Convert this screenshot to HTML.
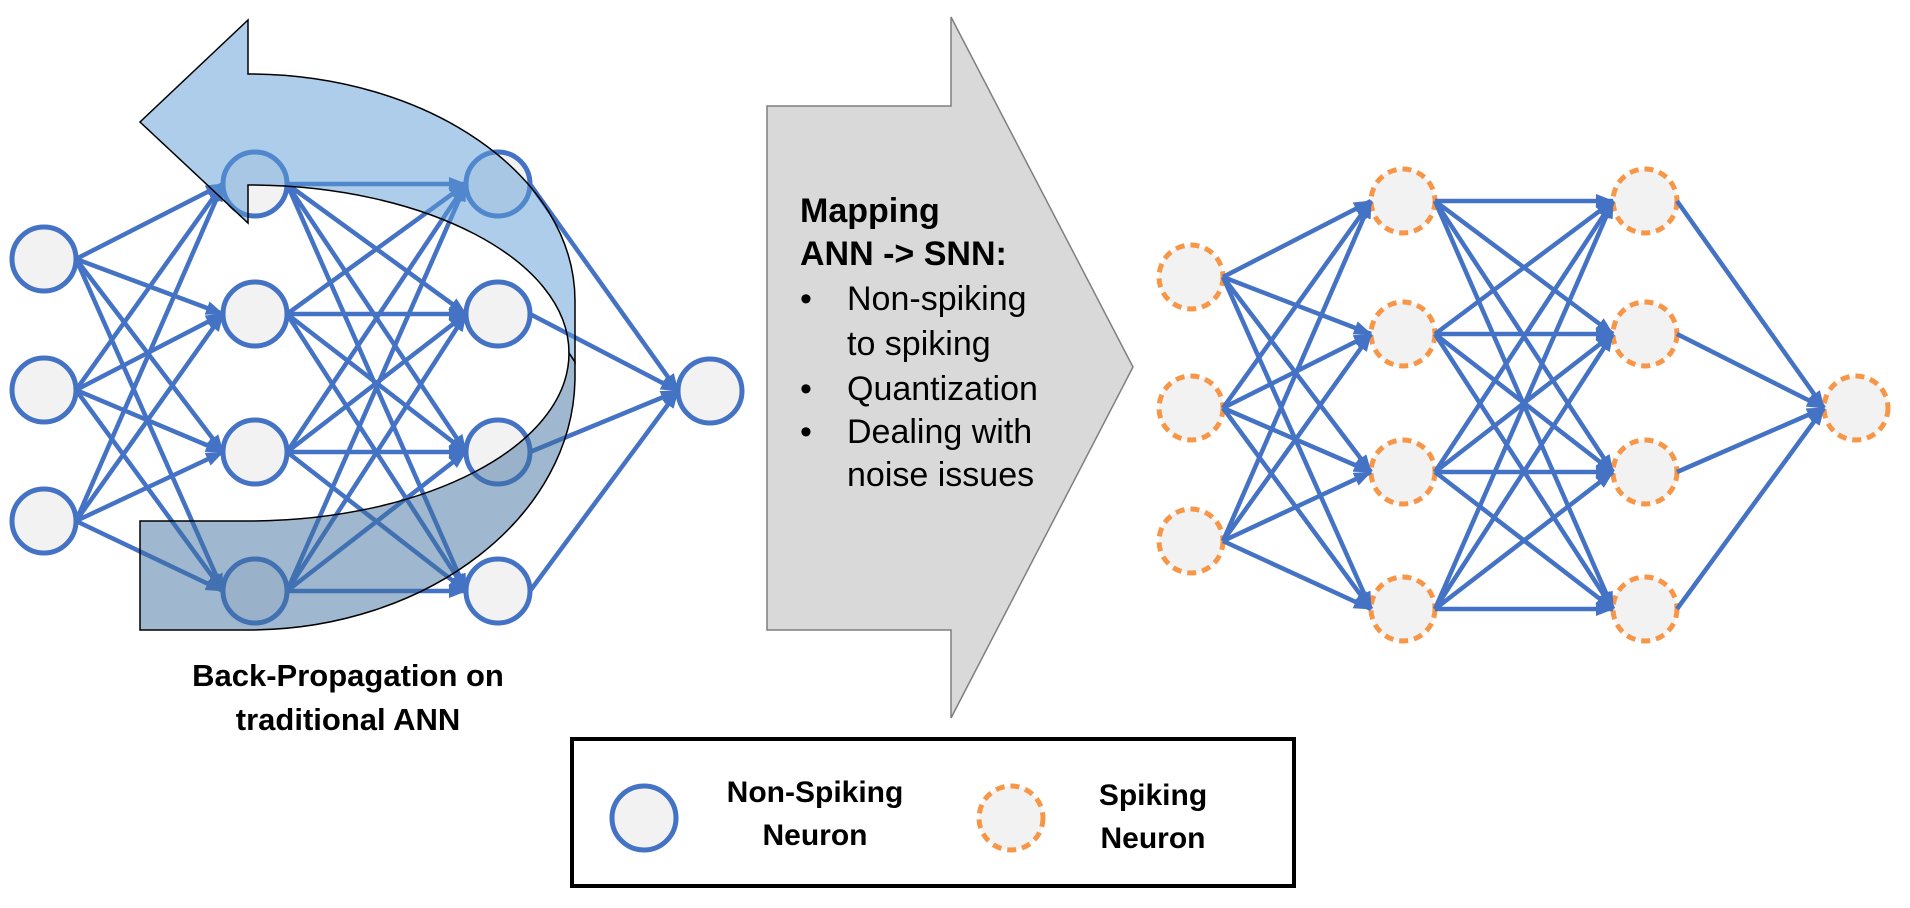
<!DOCTYPE html>
<html><head><meta charset="utf-8"><style>
html,body{margin:0;padding:0;background:#fff;}
svg{display:block;}
text{font-family:"Liberation Sans",sans-serif;fill:#000;}
</style></head><body>
<svg id="s" width="1910" height="908" viewBox="0 0 1910 908" xmlns="http://www.w3.org/2000/svg">
<defs>
<marker id="ah" markerUnits="userSpaceOnUse" markerWidth="18" markerHeight="14" refX="17" refY="7" orient="auto">
<path d="M0,0 L18,7 L0,14 z" fill="#4472c4"/>
</marker>
</defs>
<g id="leftnet"></g>
<path d="M248,74 C428,74 575,176 575,301 L575,362 L569,353 C569,260 425,185 248,185 L248,223 L140,122 L248,20 Z" fill="#5b9bd5" fill-opacity="0.5" stroke="#000" stroke-width="1.5" stroke-linejoin="miter"/>
<path d="M575,362 L575,376 C575,516 428,630 248,630 L140,630 L140,521 L248,521 C425,521 569,446 569,353 Z" fill="#3f6f9f" fill-opacity="0.5" stroke="#000" stroke-width="1.5"/>
<text x="348" y="686" font-size="31" font-weight="bold" text-anchor="middle">Back-Propagation on</text>
<text x="348" y="730" font-size="31" font-weight="bold" text-anchor="middle">traditional ANN</text>
<path d="M767,106 L951,106 L951,17 L1133,367 L951,718 L951,630 L767,630 Z" fill="#d9d9d9" stroke="#7f7f7f" stroke-width="1.5"/>
<g font-size="34">
<text x="800" y="222" font-weight="bold">Mapping</text>
<text x="800" y="265" font-weight="bold">ANN -&gt; SNN:</text>
<text x="800" y="310">•</text><text x="847" y="310">Non-spiking</text>
<text x="847" y="355">to spiking</text>
<text x="800" y="400">•</text><text x="847" y="400">Quantization</text>
<text x="800" y="443">•</text><text x="847" y="443">Dealing with</text>
<text x="847" y="486">noise issues</text>
</g>
<g id="rightnet"></g>
<rect x="572" y="739" width="722" height="147" fill="#fff" stroke="#000" stroke-width="4"/>
<circle cx="644" cy="818" r="32" fill="#f2f2f2" stroke="#4472c4" stroke-width="5"/>
<text x="815" y="802" font-size="30" font-weight="bold" text-anchor="middle">Non-Spiking</text>
<text x="815" y="845" font-size="30" font-weight="bold" text-anchor="middle">Neuron</text>
<circle cx="1011" cy="818" r="32" fill="#f2f2f2" stroke="#f79646" stroke-width="5" stroke-dasharray="9,6"/>
<text x="1153" y="805" font-size="30" font-weight="bold" text-anchor="middle">Spiking</text>
<text x="1153" y="848" font-size="30" font-weight="bold" text-anchor="middle">Neuron</text>
</svg>
<script>
var NS="http://www.w3.org/2000/svg";
function net(gid,layers,r,dashed){
  var g=document.getElementById(gid);
  var col=dashed?"#f79646":"#4472c4";
  for(var l=0;l<layers.length;l++){
    var L=layers[l];
    for(var i=0;i<L.ys.length;i++){
      var c=document.createElementNS(NS,"circle");
      c.setAttribute("cx",L.x);c.setAttribute("cy",L.ys[i]);c.setAttribute("r",r);
      c.setAttribute("fill","#f2f2f2");c.setAttribute("stroke",col);c.setAttribute("stroke-width",5);
      if(dashed)c.setAttribute("stroke-dasharray","9,6");
      g.appendChild(c);
    }
  }
  for(var l=0;l<layers.length-1;l++){
    var A=layers[l],B=layers[l+1];
    for(var i=0;i<A.ys.length;i++)for(var j=0;j<B.ys.length;j++){
      var p=document.createElementNS(NS,"line");
      p.setAttribute("x1",A.x+r);p.setAttribute("y1",A.ys[i]);
      p.setAttribute("x2",B.x-r);p.setAttribute("y2",B.ys[j]);
      p.setAttribute("stroke","#4472c4");p.setAttribute("stroke-width",4.5);
      p.setAttribute("marker-end","url(#ah)");
      g.appendChild(p);
    }
  }
}
net("leftnet",[{x:44,ys:[259,390,521]},{x:255,ys:[184,314,452,591]},{x:498,ys:[184,314,452,591]},{x:710,ys:[391]}],32,false);
net("rightnet",[{x:1191,ys:[277,408,541]},{x:1403,ys:[201,334,472,609]},{x:1645,ys:[201,334,472,609]},{x:1856,ys:[408]}],32,true);
</script>
</body></html>
